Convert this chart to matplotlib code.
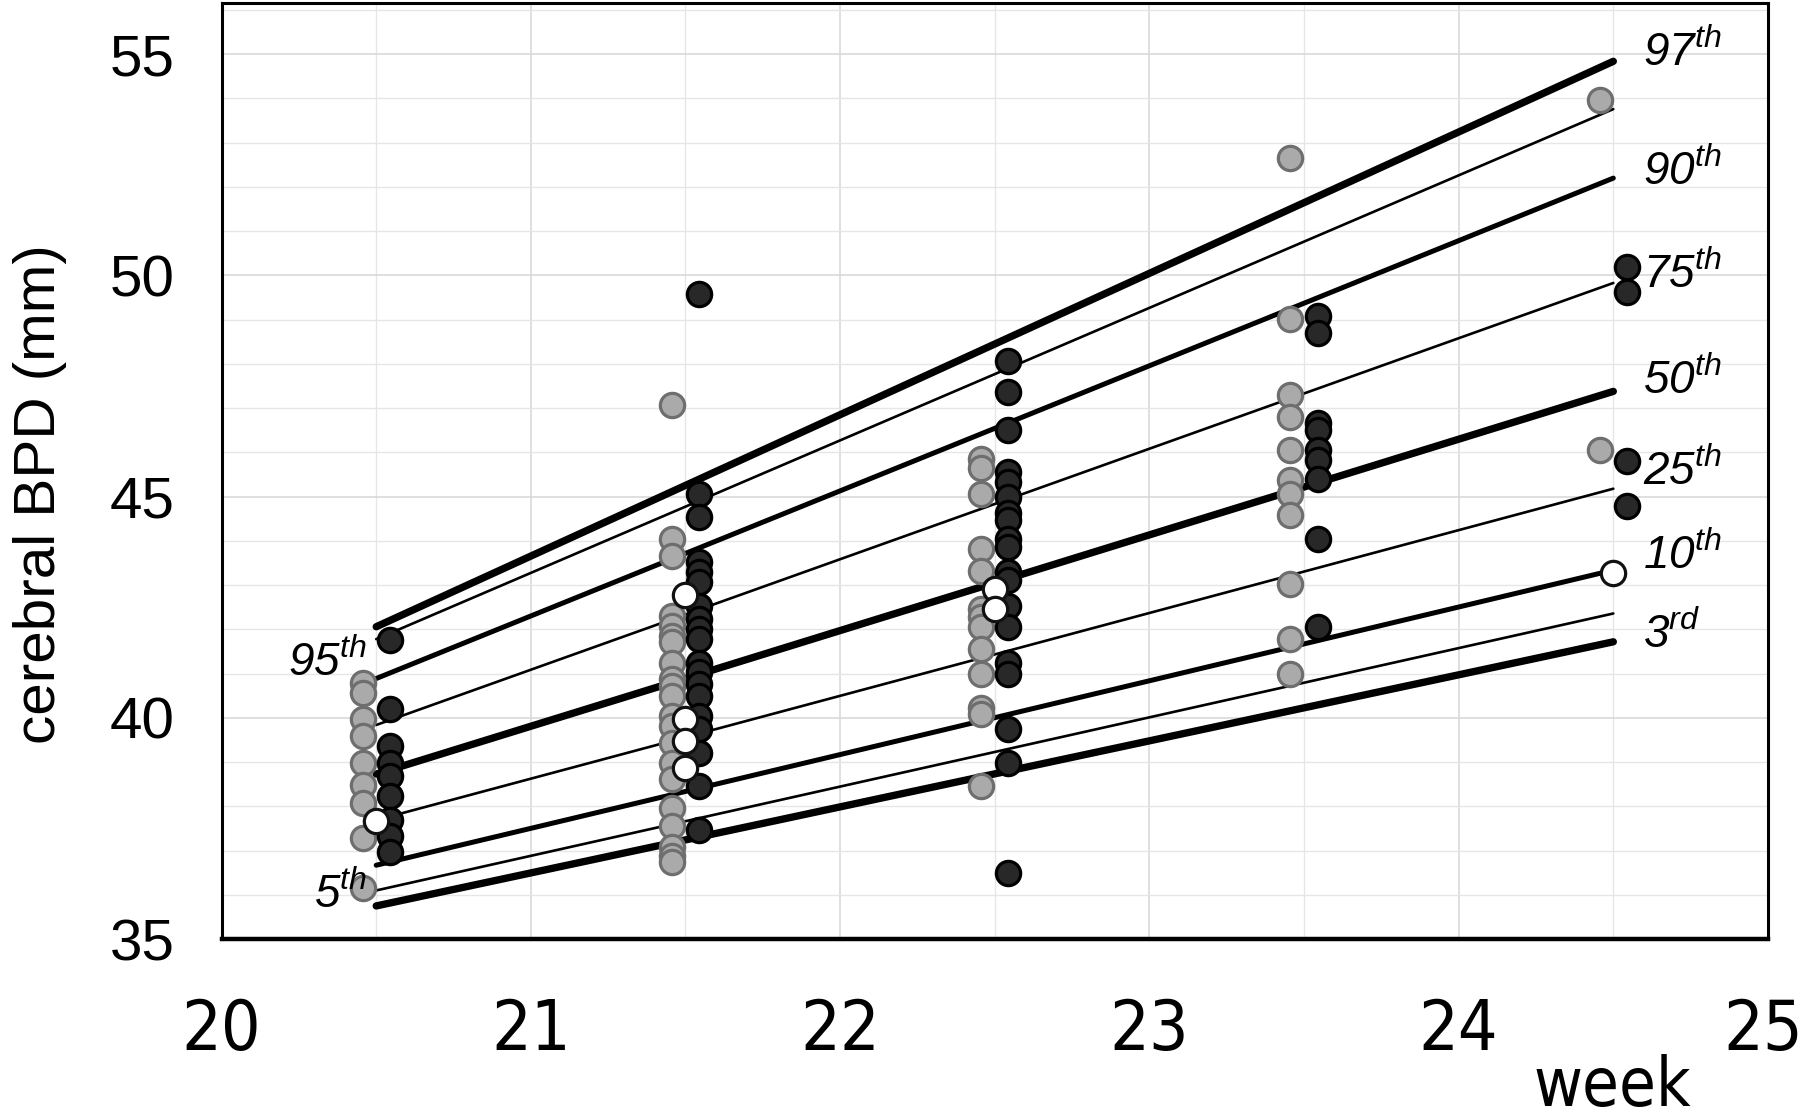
import matplotlib
matplotlib.use("Agg")
import matplotlib.pyplot as plt
import matplotlib.transforms as mtransforms
from matplotlib import font_manager

# percentile reference lines (value at week 20.5 and at week 24.5)
pct_names = ["97th", "95th", "90th", "75th", "50th", "25th", "10th", "5th", "3rd"]
pct_start = [42.06, 41.78, 40.89, 39.84, 38.73, 37.69, 36.67, 36.10, 35.75]
pct_end = [54.84, 53.76, 52.20, 49.83, 47.38, 45.18, 43.34, 42.36, 41.72]
line_x = [20.5, 24.5]

weeks = [20.5, 21.5, 22.5, 23.5, 24.5]

gray_vals = [
    [40.80, 40.57, 39.97, 39.59, 38.98, 38.49, 38.08, 37.28, 36.15],
    [47.08, 44.05, 43.67, 42.31, 42.08, 41.86, 41.71, 41.25, 40.87, 40.72, 40.50,
     40.04, 39.82, 39.44, 38.98, 38.61, 37.96, 37.55, 37.09, 36.87, 36.75],
    [45.86, 45.64, 45.07, 43.82, 43.33, 42.46, 42.27, 42.05, 41.55, 40.99, 40.23,
     40.08, 38.45],
    [52.66, 49.01, 47.30, 46.81, 46.05, 45.37, 45.07, 44.58, 43.03, 41.78, 40.99],
    [53.96, 46.06],
]
black_vals = [
    [41.75, 40.19, 39.36, 38.98, 38.68, 38.23, 37.70, 37.32, 36.98],
    [49.58, 45.05, 44.54, 43.52, 43.29, 43.07, 42.54, 42.24, 42.01, 41.78, 41.25,
     41.03, 40.76, 40.50, 40.04, 39.74, 39.21, 38.45, 37.47],
    [48.07, 47.37, 46.50, 45.56, 45.34, 45.00, 44.62, 44.47, 44.05, 43.86, 43.29,
     43.11, 42.54, 42.05, 41.25, 40.99, 39.74, 38.98, 36.49],
    [49.09, 48.70, 46.66, 46.51, 46.05, 45.83, 45.41, 44.05, 42.05],
    [50.18, 49.62, 45.81, 44.78],
]
white_vals = [
    [37.66],
    [42.77, 39.97, 39.48, 38.87],
    [42.92, 42.46],
    [],
    [43.27],
]

# label placement for the percentile names
right_labels = ["97th", "90th", "75th", "50th", "25th", "10th", "3rd"]
right_label_y = [55.02, 52.33, 50.01, 47.60, 45.55, 43.66, 41.87]
left_labels = ["95th", "5th"]
left_label_y = [41.24, 35.98]


def find_condensed():
    # look for any narrow / condensed face installed
    names = ("Narrow", "Condensed")
    squeezed = ("condensed", "semi-condensed", "extra-condensed", "ultra-condensed")
    best = None
    for f in font_manager.fontManager.ttflist:
        if f.style != "normal" or f.weight not in (400, "normal", "regular"):
            continue
        narrow_name = any(k in f.name for k in names) or any(k in f.fname for k in names)
        narrow_stretch = f.stretch in squeezed or (isinstance(f.stretch, int) and f.stretch < 500)
        if narrow_name or narrow_stretch:
            if best is None or "Liberation" in f.name:
                best = f
    return best


cond = find_condensed()

plt.rcParams["font.family"] = ["Liberation Sans", "DejaVu Sans"]
plt.rcParams["mathtext.fontset"] = "custom"
plt.rcParams["mathtext.rm"] = "Liberation Sans:italic"
plt.rcParams["mathtext.it"] = "Liberation Sans:italic"

fig = plt.figure(figsize=(18, 11.18), dpi=100)
ax = fig.add_axes([0.1231, 0.160, 0.8591, 0.837])

# percentile lines
widths = {"97th": 5.3, "50th": 5.3, "3rd": 5.3, "90th": 3.6, "10th": 3.6}
for name, y0, y1 in zip(pct_names, pct_start, pct_end):
    ax.plot(line_x, [y0, y1], color="black", lw=widths.get(name, 1.9),
            solid_capstyle="round", zorder=3)

# measured points
off = 0.044
for wk, g, b, w in zip(weeks, gray_vals, black_vals, white_vals):
    ax.plot([wk - off] * len(g), g, "o", ms=17.5, mfc="#aaaaaa", mec="#6e6e6e",
            mew=2.3, zorder=4, ls="none")
    ax.plot([wk + off] * len(b), b, "o", ms=17.5, mfc="#282828", mec="black",
            mew=2.3, zorder=5, ls="none")
    if w:
        ax.plot([wk] * len(w), w, "o", ms=17.5, mfc="white", mec="#111111",
                mew=2.3, zorder=6, ls="none")


def sup(label):
    return r"$%s^{%s}$" % (label[:-2], label[-2:])


for name, y in zip(right_labels, right_label_y):
    ax.text(24.595, y, sup(name), fontsize=33, ha="left", va="center")
for name, y in zip(left_labels, left_label_y):
    ax.text(20.47, y, sup(name), fontsize=33, ha="right", va="center", zorder=7)

ax.set_xlim(20, 25)
ax.set_ylim(35, 56.15)
ax.set_xticks([20, 21, 22, 23, 24, 25])
ax.set_yticks([35, 40, 45, 50, 55])
ax.set_xticks([20.5 + i for i in range(5)], minor=True)
ax.set_yticks([36, 37, 38, 39, 41, 42, 43, 44, 46, 47, 48, 49, 51, 52, 53, 54, 56],
              minor=True)
ax.grid(True, which="major", color="#d6d6d6", lw=1.1, zorder=0)
ax.grid(True, which="minor", color="#e6e6e6", lw=1.0, zorder=0)
ax.set_axisbelow(True)

ax.tick_params(axis="both", which="both", length=0)
ax.tick_params(axis="y", labelsize=42, pad=34)

if cond is not None:
    xfp = font_manager.FontProperties(fname=cond.fname, size=50)
    wfp = font_manager.FontProperties(fname=cond.fname, size=48)
    xpad = 42
else:
    xfp = font_manager.FontProperties(family="Liberation Sans", size=44)
    wfp = font_manager.FontProperties(family="Liberation Sans", size=42)
    xpad = 47
ax.tick_params(axis="x", pad=xpad)
xlabels = ax.get_xticklabels()
for lab in xlabels:
    lab.set_fontproperties(xfp)
# keep the last label inside the figure edge
nudge = mtransforms.ScaledTranslation(-5 / 100, 0, fig.dpi_scale_trans)
xlabels[-1].set_transform(xlabels[-1].get_transform() + nudge)

for side in ["left", "right", "top"]:
    ax.spines[side].set_linewidth(2.2)
ax.spines["bottom"].set_linewidth(3.2)

fig.text(0.0222, 0.558, "cerebral BPD (mm)", rotation=90, fontsize=42,
         ha="center", va="center")
fig.text(0.896, 0.0277, "week", fontproperties=wfp, ha="center", va="center")

fig.savefig("out.png", dpi=100)
